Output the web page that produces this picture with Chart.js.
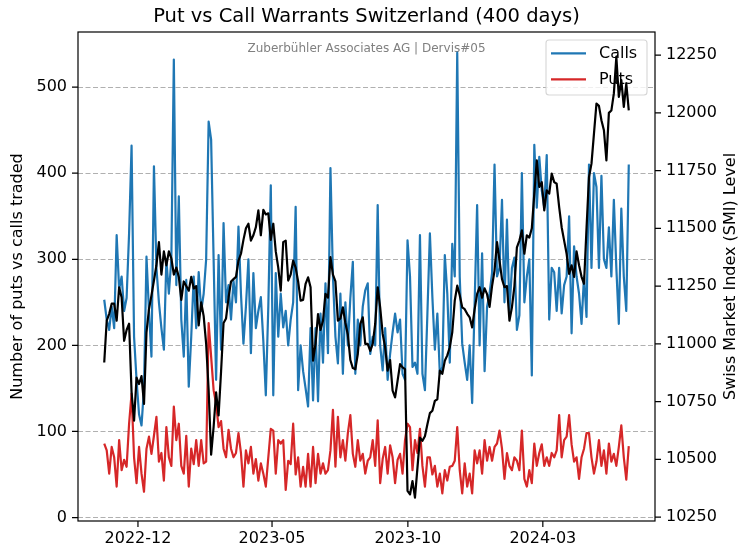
<!DOCTYPE html>
<html><head><meta charset="utf-8">
<script src="https://cdn.jsdelivr.net/npm/chart.js@4.4.1/dist/chart.umd.min.js"></script>
<style>html,body{margin:0;padding:0;background:#fff;}#wrap{width:739px;height:550px;}</style>
</head><body><div id="wrap"><canvas id="c" width="739" height="550"></canvas></div>
<script>
const TITLE = 'Put vs Call Warrants Switzerland (400 days)';
const SUBTITLE = 'Zuberbühler Associates AG | Dervis#05';
const Y_LEFT_LABEL = 'Number of puts vs calls traded';
const Y_RIGHT_LABEL = 'Swiss Market Index (SMI) Level';
const SERIES_LABELS = ['Calls', 'Puts', 'SMI'];
const START_DATE = '2022-10-24';
const STEP_DAYS = 2.8;
const xTickLabels = ['2022-12', '2023-05', '2023-10', '2024-03'];
const leftTicks = [0, 100, 200, 300, 400, 500];
const rightTicks = [10250, 10500, 10750, 11000, 11250, 11500, 11750, 12000, 12250];

const calls = [
253,230,218,245,220,328,265,280,240,255,
330,432,210,160,120,107,150,303,240,187,
408,290,250,220,195,300,260,300,532,270,
373,230,187,276,152,210,280,220,285,240,
260,300,460,439,300,160,305,195,342,250,
270,230,275,250,338,260,202,245,300,191,
284,220,240,256,205,142,245,386,142,284,
210,260,221,240,200,230,250,361,148,200,
170,150,129,220,136,220,135,237,180,272,
191,406,280,210,179,260,167,250,200,255,
297,167,230,200,245,264,272,190,210,200,
363,200,171,220,160,190,215,237,215,230,
167,160,322,280,175,180,167,328,167,148,
237,330,256,195,237,167,175,305,260,180,
318,280,540,280,202,180,160,200,133,250,
363,200,307,170,245,260,284,410,280,290,
369,250,346,240,290,302,218,235,400,250,
280,300,165,433,360,419,380,360,421,230,
290,285,240,290,237,270,280,350,214,315,
280,260,225,280,233,410,290,400,384,290,
397,300,290,337,280,369,290,225,359,280,
240,410
];
const puts = [
86,78,51,82,70,36,90,55,67,59,
109,144,70,40,82,51,30,80,94,74,
95,117,65,75,43,105,70,60,129,90,
109,60,51,95,36,80,62,90,60,90,
63,65,226,187,148,132,105,112,80,70,
102,80,70,75,98,75,36,78,63,82,
51,68,43,63,51,36,70,103,101,51,
90,86,90,32,66,62,109,50,70,36,
59,36,74,36,82,40,74,51,63,51,
55,78,125,59,117,70,90,66,98,119,
74,59,90,66,74,51,66,70,90,60,
113,40,68,82,51,84,70,40,67,74,
51,90,109,105,55,90,75,103,60,36,
70,70,50,60,36,51,28,55,43,59,
60,66,105,55,28,63,36,51,28,78,
63,78,51,90,66,82,66,82,86,101,
80,45,75,60,55,70,66,55,101,45,
36,55,40,86,60,75,85,60,70,60,
75,70,78,119,70,90,94,119,85,65,
70,45,70,80,98,98,70,51,65,90,
60,78,51,86,65,74,60,82,107,70,
44,83
];
const smi = [
10919,11100,11130,11174,11174,11100,11245,11201,11013,11060,
11087,10790,10667,10854,10826,10860,10740,11050,11150,11210,
11274,11340,11440,11300,11400,11340,11400,11370,11300,11330,
11290,11190,11270,11250,11230,11290,11240,11250,11080,11180,
11120,11000,10800,10520,10640,10790,10690,10880,11090,11110,
11200,11270,11280,11290,11360,11390,11450,11500,11520,11447,
11470,11505,11578,11470,11580,11560,11565,11450,11520,11400,
11330,11230,11440,11447,11274,11300,11360,11330,11270,11187,
11190,11260,11288,11245,10927,11000,11129,11060,11100,11216,
11200,11375,11300,11270,11100,11110,11158,11090,11040,10930,
10895,10890,10956,11086,11115,11000,11000,10970,11000,11086,
11245,11158,11043,10985,10884,10930,10797,10768,10840,10912,
10898,10890,10363,10348,10406,10334,10464,10594,10580,10600,
10652,10700,10710,10753,10760,10884,10870,10927,10950,10985,
11050,11187,11252,11210,11158,11150,11130,11115,11071,11150,
11216,11245,11200,11240,11215,11160,11250,11317,11440,11360,
11280,11245,11250,11100,11158,11250,11418,11447,11491,11390,
11470,11460,11500,11650,11794,11679,11700,11578,11664,11650,
11737,11700,11693,11592,11505,11447,11390,11303,11340,11290,
11400,11340,11290,11260,11500,11722,11780,11910,12040,12030,
11968,11925,11794,12000,12010,12084,12243,12069,12142,12026,
12127,12011
];

const FONT = 'DejaVu Sans';
const DAY = 86400000;
function dayNum(s) { const p = s.split('-').map(Number); return Date.UTC(p[0], p[1] - 1, p[2] || 1) / DAY; }
const x0 = dayNum(START_DATE);
const xs = calls.map((_, i) => x0 + i * STEP_DAYS);
const xTickVals = xTickLabels.map(dayNum);
const span = xs[xs.length - 1] - xs[0];
const xMin = xs[0] - 0.05 * span, xMax = xs[xs.length - 1] + 0.05 * span;
const pts = arr => arr.map((v, i) => ({ x: xs[i], y: v }));

function drawLegend(chart) {
  const ctx = chart.ctx, a = chart.chartArea;
  const w = 101, h = 55, x = a.right - 8 - w, y = a.top + 8, r = 3;
  ctx.save();
  ctx.beginPath();
  ctx.moveTo(x + r, y); ctx.lineTo(x + w - r, y); ctx.arcTo(x + w, y, x + w, y + r, r);
  ctx.lineTo(x + w, y + h - r); ctx.arcTo(x + w, y + h, x + w - r, y + h, r);
  ctx.lineTo(x + r, y + h); ctx.arcTo(x, y + h, x, y + h - r, r);
  ctx.lineTo(x, y + r); ctx.arcTo(x, y, x + r, y, r); ctx.closePath();
  ctx.fillStyle = 'rgba(255,255,255,0.8)'; ctx.fill();
  ctx.strokeStyle = 'rgba(204,204,204,0.8)'; ctx.lineWidth = 1.1; ctx.stroke();
  [0, 1].forEach(k => {
    const ds = chart.data.datasets[k];
    const ly = y + 13.3 + k * 26;
    ctx.beginPath(); ctx.moveTo(x + 5, ly); ctx.lineTo(x + 40, ly);
    ctx.strokeStyle = ds.borderColor; ctx.lineWidth = 2.2; ctx.stroke();
    ctx.fillStyle = '#000'; ctx.font = '16px "' + FONT + '"';
    ctx.textAlign = 'left'; ctx.textBaseline = 'middle';
    ctx.fillText(ds.label, x + 53, ly + 1);
  });
  ctx.restore();
}

const decor = {
  id: 'decor',
  beforeDatasetsDraw(chart) {
    const ctx = chart.ctx, a = chart.chartArea;
    ctx.save();
    ctx.fillStyle = '#808080'; ctx.font = '12px "' + FONT + '"';
    ctx.textAlign = 'center'; ctx.textBaseline = 'alphabetic';
    ctx.fillText(SUBTITLE, (a.left + a.right) / 2, 52);
    ctx.restore();
  },
  beforeDatasetDraw(chart, args) { if (args.index === 2) drawLegend(chart); },
  afterDraw(chart) {
    const ctx = chart.ctx, a = chart.chartArea, s = chart.scales;
    ctx.save();
    ctx.strokeStyle = '#000'; ctx.lineWidth = 1.2;
    ctx.strokeRect(a.left, a.top, a.right - a.left, a.bottom - a.top);
    const TL = 6;
    ctx.beginPath();
    leftTicks.forEach(v => { const p = s.y.getPixelForValue(v); ctx.moveTo(a.left, p); ctx.lineTo(a.left - TL, p); });
    rightTicks.forEach(v => { const p = s.y2.getPixelForValue(v); ctx.moveTo(a.right, p); ctx.lineTo(a.right + TL, p); });
    xTickVals.forEach(v => { const p = s.x.getPixelForValue(v); ctx.moveTo(p, a.bottom); ctx.lineTo(p, a.bottom + TL); });
    ctx.stroke();
    ctx.fillStyle = '#000';
    ctx.font = '19.5px "' + FONT + '"'; ctx.textAlign = 'center'; ctx.textBaseline = 'alphabetic';
    ctx.fillText(TITLE, (a.left + a.right) / 2, 22);
    ctx.font = '16px "' + FONT + '"'; ctx.textBaseline = 'middle';
    const cy = (a.top + a.bottom) / 2;
    ctx.save(); ctx.translate(18, cy); ctx.rotate(-Math.PI / 2); ctx.fillText(Y_LEFT_LABEL, 0, 0); ctx.restore();
    ctx.save(); ctx.translate(731, cy); ctx.rotate(-Math.PI / 2); ctx.fillText(Y_RIGHT_LABEL, 0, 0); ctx.restore();
    ctx.restore();
  }
};

const tickFont = { family: FONT, size: 16 };
new Chart(document.getElementById('c'), {
  type: 'line',
  data: { datasets: [
    { label: SERIES_LABELS[0], data: pts(calls), borderColor: '#1f77b4', borderWidth: 2.2, pointRadius: 0, yAxisID: 'y', order: 2 },
    { label: SERIES_LABELS[1], data: pts(puts), borderColor: '#d62728', borderWidth: 2.2, pointRadius: 0, yAxisID: 'y', order: 1 },
    { label: SERIES_LABELS[2], data: pts(smi), borderColor: '#000000', borderWidth: 2.2, pointRadius: 0, yAxisID: 'y2', order: 0 }
  ] },
  options: {
    responsive: false, animation: false, devicePixelRatio: 1,
    layout: { padding: { top: 32, left: 0, right: 0, bottom: 0 } },
    plugins: { legend: { display: false }, title: { display: false }, tooltip: { enabled: false } },
    elements: { line: { tension: 0, borderJoinStyle: 'round', borderCapStyle: 'butt' } },
    scales: {
      x: { type: 'linear', position: 'bottom', min: xMin, max: xMax,
        afterBuildTicks: sc => { sc.ticks = xTickVals.map(v => ({ value: v })); },
        ticks: { callback: (v, i) => xTickLabels[i], autoSkip: false, maxRotation: 0, minRotation: 0, padding: 8, color: '#000', font: tickFont },
        grid: { display: false, drawTicks: false }, border: { display: false },
        afterFit: sc => { sc.height = 29; } },
      y: { type: 'linear', position: 'left', min: -4, max: 564,
        afterBuildTicks: sc => { sc.ticks = leftTicks.map(v => ({ value: v })); },
        ticks: { callback: v => String(v), padding: 11, color: '#000', font: tickFont },
        grid: { color: '#b0b0b0', lineWidth: 1.1, drawTicks: false },
        border: { display: false, dash: [5, 2.5] },
        afterFit: sc => { sc.width = 78; } },
      y2: { type: 'linear', position: 'right', min: 10233, max: 12350,
        afterBuildTicks: sc => { sc.ticks = rightTicks.map(v => ({ value: v })); },
        ticks: { callback: v => String(v), padding: 11, color: '#000', font: tickFont },
        grid: { drawOnChartArea: false, drawTicks: false }, border: { display: false },
        afterFit: sc => { sc.width = 84; } }
    }
  },
  plugins: [decor]
});
</script></body></html>
